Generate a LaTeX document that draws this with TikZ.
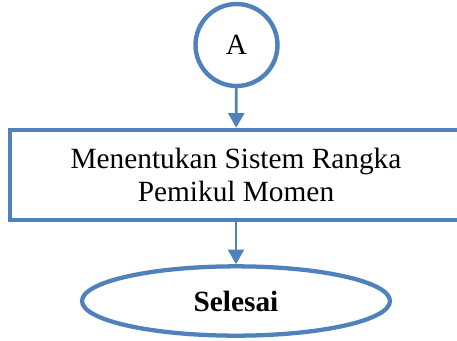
\documentclass[tikz,border=0pt]{standalone}
\usepackage{fontspec}
\setmainfont{Liberation Serif}
\usetikzlibrary{arrows.meta,shapes.geometric}
\definecolor{flowblue}{HTML}{4F81BD}
\tikzset{
  connector/.style={draw=flowblue,line width=2pt,-{Triangle[length=11pt,width=12pt]}},
  connectorcircle/.style={circle,draw=flowblue,line width=3.3pt,fill=white,minimum size=61.5pt,inner sep=0pt},
  processbox/.style={rectangle,draw=flowblue,line width=3.4pt,fill=white,minimum width=339pt,minimum height=67.5pt,align=center,inner sep=0pt},
  terminator/.style={ellipse,draw=flowblue,line width=3.2pt,fill=white,minimum width=231pt,minimum height=52pt,inner sep=0pt},
  flowtext/.style={font=\fontsize{22pt}{25pt}\selectfont}
}
\begin{document}
\begin{tikzpicture}[x=0.75pt,y=-0.75pt]
  \useasboundingbox (0,0) rectangle (457,340);
  \node[connectorcircle,flowtext] (a) at (236.5,45) {A};
  \node[processbox,flowtext] (b) at (236,175) {Menentukan Sistem Rangka\\Pemikul Momen};
  \node[terminator,flowtext] (c) at (236,301) {\textbf{Selesai}};
  \draw[connector] (a) -- (b);
  \draw[connector] (b) -- (c);
\end{tikzpicture}
\end{document}
